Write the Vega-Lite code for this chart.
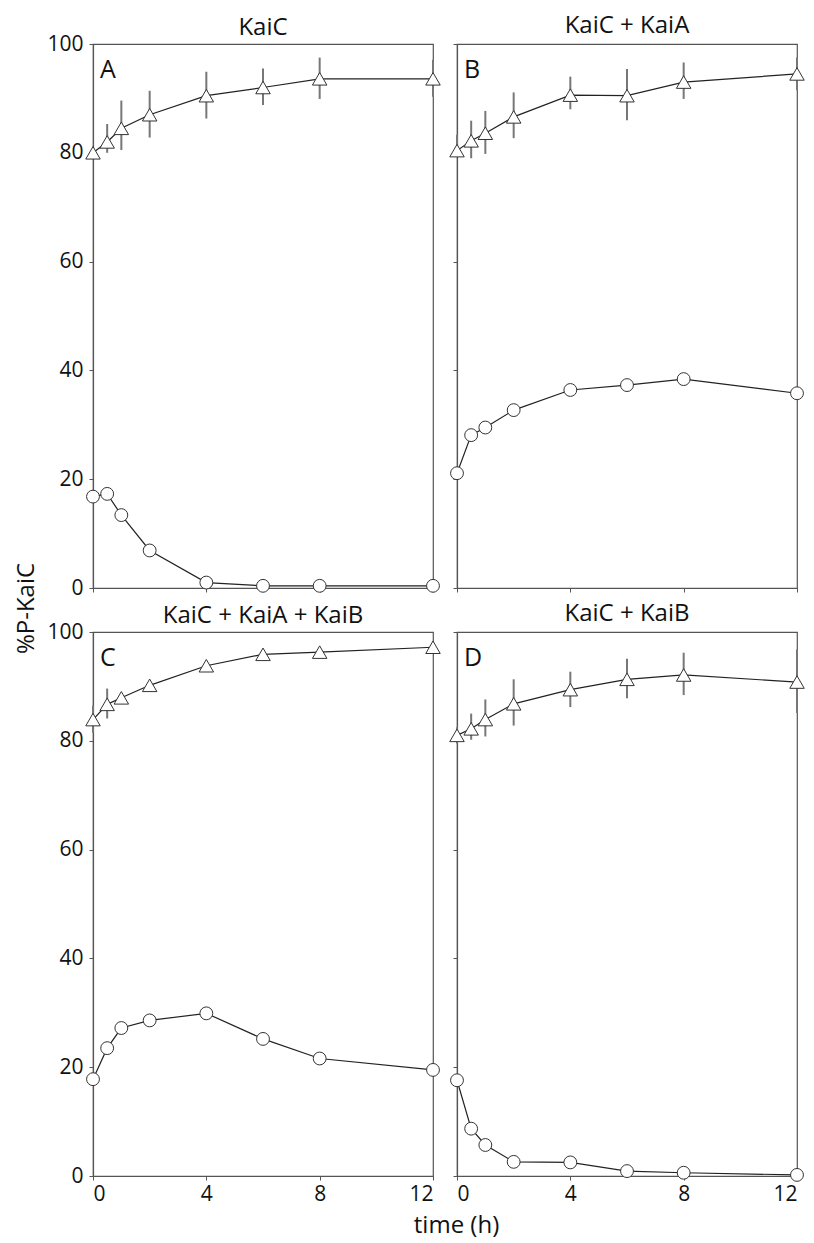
{
  "$schema": "https://vega.github.io/schema/vega-lite/v6.json",
  "background": "white",
  "padding": {"left": 14, "top": 12, "right": 4, "bottom": 0},
  "datasets": {
    "kai": [
      {"panel": "A", "series": "upper", "t": 0, "v": 80.0, "lo": null, "hi": null},
      {"panel": "A", "series": "upper", "t": 0.5, "v": 82.0, "lo": 80.0, "hi": 85.3},
      {"panel": "A", "series": "upper", "t": 1, "v": 84.5, "lo": 80.5, "hi": 89.6},
      {"panel": "A", "series": "upper", "t": 2, "v": 87.0, "lo": 82.8, "hi": 91.4},
      {"panel": "A", "series": "upper", "t": 4, "v": 90.5, "lo": 86.3, "hi": 94.9},
      {"panel": "A", "series": "upper", "t": 6, "v": 92.0, "lo": 88.8, "hi": 95.5},
      {"panel": "A", "series": "upper", "t": 8, "v": 93.6, "lo": 89.9, "hi": 97.5},
      {"panel": "A", "series": "upper", "t": 12, "v": 93.6, "lo": 90.3, "hi": 97.1},
      {"panel": "A", "series": "lower", "t": 0, "v": 16.8},
      {"panel": "A", "series": "lower", "t": 0.5, "v": 17.3},
      {"panel": "A", "series": "lower", "t": 1, "v": 13.4},
      {"panel": "A", "series": "lower", "t": 2, "v": 6.9},
      {"panel": "A", "series": "lower", "t": 4, "v": 1.0},
      {"panel": "A", "series": "lower", "t": 6, "v": 0.4},
      {"panel": "A", "series": "lower", "t": 8, "v": 0.4},
      {"panel": "A", "series": "lower", "t": 12, "v": 0.4},
      {"panel": "B", "series": "upper", "t": 0, "v": 80.4, "lo": 79.3, "hi": 83.3},
      {"panel": "B", "series": "upper", "t": 0.5, "v": 82.2, "lo": 79.0, "hi": 85.9},
      {"panel": "B", "series": "upper", "t": 1, "v": 83.6, "lo": 79.8, "hi": 87.7},
      {"panel": "B", "series": "upper", "t": 2, "v": 86.6, "lo": 82.7, "hi": 91.1},
      {"panel": "B", "series": "upper", "t": 4, "v": 90.6, "lo": 88.0, "hi": 94.0},
      {"panel": "B", "series": "upper", "t": 6, "v": 90.5, "lo": 86.0, "hi": 95.4},
      {"panel": "B", "series": "upper", "t": 8, "v": 93.0, "lo": 89.9, "hi": 96.6},
      {"panel": "B", "series": "upper", "t": 12, "v": 94.5, "lo": 91.5, "hi": 97.5},
      {"panel": "B", "series": "lower", "t": 0, "v": 21.1},
      {"panel": "B", "series": "lower", "t": 0.5, "v": 28.1},
      {"panel": "B", "series": "lower", "t": 1, "v": 29.5},
      {"panel": "B", "series": "lower", "t": 2, "v": 32.7},
      {"panel": "B", "series": "lower", "t": 4, "v": 36.4},
      {"panel": "B", "series": "lower", "t": 6, "v": 37.3},
      {"panel": "B", "series": "lower", "t": 8, "v": 38.4},
      {"panel": "B", "series": "lower", "t": 12, "v": 35.8},
      {"panel": "C", "series": "upper", "t": 0, "v": 83.9, "lo": 81.5, "hi": 86.5},
      {"panel": "C", "series": "upper", "t": 0.5, "v": 86.7, "lo": 84.1, "hi": 89.6},
      {"panel": "C", "series": "upper", "t": 1, "v": 87.9, "lo": 87.0, "hi": 88.8},
      {"panel": "C", "series": "upper", "t": 2, "v": 90.2, "lo": 89.4, "hi": 91.0},
      {"panel": "C", "series": "upper", "t": 4, "v": 93.8, "lo": 93.0, "hi": 94.6},
      {"panel": "C", "series": "upper", "t": 6, "v": 95.9, "lo": 95.0, "hi": 96.8},
      {"panel": "C", "series": "upper", "t": 8, "v": 96.3, "lo": 95.5, "hi": 97.1},
      {"panel": "C", "series": "upper", "t": 12, "v": 97.2, "lo": 96.4, "hi": 98.0},
      {"panel": "C", "series": "lower", "t": 0, "v": 17.8},
      {"panel": "C", "series": "lower", "t": 0.5, "v": 23.5},
      {"panel": "C", "series": "lower", "t": 1, "v": 27.2},
      {"panel": "C", "series": "lower", "t": 2, "v": 28.6},
      {"panel": "C", "series": "lower", "t": 4, "v": 29.9},
      {"panel": "C", "series": "lower", "t": 6, "v": 25.2},
      {"panel": "C", "series": "lower", "t": 8, "v": 21.6},
      {"panel": "C", "series": "lower", "t": 12, "v": 19.5},
      {"panel": "D", "series": "upper", "t": 0, "v": 81.0, "lo": 79.5, "hi": 82.5},
      {"panel": "D", "series": "upper", "t": 0.5, "v": 82.2, "lo": 80.2, "hi": 85.0},
      {"panel": "D", "series": "upper", "t": 1, "v": 83.9, "lo": 80.8, "hi": 87.6},
      {"panel": "D", "series": "upper", "t": 2, "v": 86.8, "lo": 82.8, "hi": 91.3},
      {"panel": "D", "series": "upper", "t": 4, "v": 89.4, "lo": 86.2, "hi": 92.7},
      {"panel": "D", "series": "upper", "t": 6, "v": 91.3, "lo": 87.8, "hi": 95.1},
      {"panel": "D", "series": "upper", "t": 8, "v": 92.1, "lo": 88.4, "hi": 96.2},
      {"panel": "D", "series": "upper", "t": 12, "v": 90.8, "lo": 85.1, "hi": 96.8},
      {"panel": "D", "series": "lower", "t": 0, "v": 17.6},
      {"panel": "D", "series": "lower", "t": 0.5, "v": 8.7},
      {"panel": "D", "series": "lower", "t": 1, "v": 5.7},
      {"panel": "D", "series": "lower", "t": 2, "v": 2.6},
      {"panel": "D", "series": "lower", "t": 4, "v": 2.5},
      {"panel": "D", "series": "lower", "t": 6, "v": 0.9},
      {"panel": "D", "series": "lower", "t": 8, "v": 0.6},
      {"panel": "D", "series": "lower", "t": 12, "v": 0.2}
    ]
  },
  "columns": 2,
  "spacing": {"row": 44, "column": 24},
  "bounds": "flush",
  "concat": [
    {
      "width": 340, "height": 544,
      "title": {"text": "KaiC", "offset": -7},
      "data": {"name": "kai"},
      "transform": [{"filter": "datum.panel === 'A'"}],
      "layer": [
        {"transform": [{"filter": "isValid(datum.lo)"}],
         "mark": {"type": "rule", "color": "#777", "strokeWidth": 2},
         "encoding": {
           "x": {"field": "t", "type": "quantitative", "scale": {"domain": [0, 12], "nice": false}, "axis": {"values": [0, 4, 8, 12], "labels": false, "title": null}},
           "y": {"field": "lo", "type": "quantitative", "scale": {"domain": [0, 100], "nice": false}, "axis": {"values": [0, 20, 40, 60, 80, 100], "title": "%P-KaiC", "titleY": 564, "titlePadding": 8}},
           "y2": {"field": "hi"}}},
        {"mark": {"type": "line", "color": "#222", "strokeWidth": 1.2},
         "encoding": {
           "x": {"field": "t", "type": "quantitative"},
           "y": {"field": "v", "type": "quantitative"},
           "detail": {"field": "series"}}},
        {"mark": {"type": "point", "filled": true, "fill": "white", "stroke": "#333", "strokeWidth": 1, "opacity": 1},
         "encoding": {
           "x": {"field": "t", "type": "quantitative"},
           "y": {"field": "v", "type": "quantitative"},
           "shape": {"field": "series", "type": "nominal", "scale": {"domain": ["upper", "lower"], "range": ["triangle-up", "circle"]}, "legend": null},
           "size": {"field": "series", "type": "nominal", "scale": {"domain": ["upper", "lower"], "range": [210, 165]}, "legend": null}}},
        {"transform": [{"filter": "datum.t === 0 && datum.series === 'upper'"}],
         "mark": {"type": "text", "text": "A", "align": "left", "baseline": "top", "dx": 7, "dy": 14, "fontSize": 25, "color": "#111"},
         "encoding": {"x": {"datum": 0, "type": "quantitative"}, "y": {"datum": 100, "type": "quantitative"}}}
      ]
    },
    {
      "width": 340, "height": 544,
      "title": {"text": "KaiC + KaiA", "offset": 6},
      "data": {"name": "kai"},
      "transform": [{"filter": "datum.panel === 'B'"}],
      "layer": [
        {"transform": [{"filter": "isValid(datum.lo)"}],
         "mark": {"type": "rule", "color": "#777", "strokeWidth": 2},
         "encoding": {
           "x": {"field": "t", "type": "quantitative", "scale": {"domain": [0, 12], "nice": false}, "axis": {"values": [0, 4, 8, 12], "labels": false, "title": null}},
           "y": {"field": "lo", "type": "quantitative", "scale": {"domain": [0, 100], "nice": false}, "axis": {"values": [0, 20, 40, 60, 80, 100], "labels": false, "title": null}},
           "y2": {"field": "hi"}}},
        {"mark": {"type": "line", "color": "#222", "strokeWidth": 1.2},
         "encoding": {
           "x": {"field": "t", "type": "quantitative"},
           "y": {"field": "v", "type": "quantitative"},
           "detail": {"field": "series"}}},
        {"mark": {"type": "point", "filled": true, "fill": "white", "stroke": "#333", "strokeWidth": 1, "opacity": 1},
         "encoding": {
           "x": {"field": "t", "type": "quantitative"},
           "y": {"field": "v", "type": "quantitative"},
           "shape": {"field": "series", "type": "nominal", "scale": {"domain": ["upper", "lower"], "range": ["triangle-up", "circle"]}, "legend": null},
           "size": {"field": "series", "type": "nominal", "scale": {"domain": ["upper", "lower"], "range": [210, 165]}, "legend": null}}},
        {"transform": [{"filter": "datum.t === 0 && datum.series === 'upper'"}],
         "mark": {"type": "text", "text": "B", "align": "left", "baseline": "top", "dx": 7, "dy": 14, "fontSize": 25, "color": "#111"},
         "encoding": {"x": {"datum": 0, "type": "quantitative"}, "y": {"datum": 100, "type": "quantitative"}}}
      ]
    },
    {
      "width": 340, "height": 544,
      "title": {"text": "KaiC + KaiA + KaiB", "offset": -7},
      "data": {"name": "kai"},
      "transform": [{"filter": "datum.panel === 'C'"}],
      "layer": [
        {"transform": [{"filter": "isValid(datum.lo)"}],
         "mark": {"type": "rule", "color": "#777", "strokeWidth": 2},
         "encoding": {
           "x": {"field": "t", "type": "quantitative", "scale": {"domain": [0, 12], "nice": false}, "axis": {"values": [0, 4, 8, 12], "title": "time (h)", "titleX": 363, "titlePadding": 9}},
           "y": {"field": "lo", "type": "quantitative", "scale": {"domain": [0, 100], "nice": false}, "axis": {"values": [0, 20, 40, 60, 80, 100], "title": null}},
           "y2": {"field": "hi"}}},
        {"mark": {"type": "line", "color": "#222", "strokeWidth": 1.2},
         "encoding": {
           "x": {"field": "t", "type": "quantitative"},
           "y": {"field": "v", "type": "quantitative"},
           "detail": {"field": "series"}}},
        {"mark": {"type": "point", "filled": true, "fill": "white", "stroke": "#333", "strokeWidth": 1, "opacity": 1},
         "encoding": {
           "x": {"field": "t", "type": "quantitative"},
           "y": {"field": "v", "type": "quantitative"},
           "shape": {"field": "series", "type": "nominal", "scale": {"domain": ["upper", "lower"], "range": ["triangle-up", "circle"]}, "legend": null},
           "size": {"field": "series", "type": "nominal", "scale": {"domain": ["upper", "lower"], "range": [210, 165]}, "legend": null}}},
        {"transform": [{"filter": "datum.t === 0 && datum.series === 'upper'"}],
         "mark": {"type": "text", "text": "C", "align": "left", "baseline": "top", "dx": 7, "dy": 14, "fontSize": 25, "color": "#111"},
         "encoding": {"x": {"datum": 0, "type": "quantitative"}, "y": {"datum": 100, "type": "quantitative"}}}
      ]
    },
    {
      "width": 340, "height": 544,
      "title": {"text": "KaiC + KaiB", "offset": 6},
      "data": {"name": "kai"},
      "transform": [{"filter": "datum.panel === 'D'"}],
      "layer": [
        {"transform": [{"filter": "isValid(datum.lo)"}],
         "mark": {"type": "rule", "color": "#777", "strokeWidth": 2},
         "encoding": {
           "x": {"field": "t", "type": "quantitative", "scale": {"domain": [0, 12], "nice": false}, "axis": {"values": [0, 4, 8, 12], "title": null}},
           "y": {"field": "lo", "type": "quantitative", "scale": {"domain": [0, 100], "nice": false}, "axis": {"values": [0, 20, 40, 60, 80, 100], "labels": false, "title": null}},
           "y2": {"field": "hi"}}},
        {"mark": {"type": "line", "color": "#222", "strokeWidth": 1.2},
         "encoding": {
           "x": {"field": "t", "type": "quantitative"},
           "y": {"field": "v", "type": "quantitative"},
           "detail": {"field": "series"}}},
        {"mark": {"type": "point", "filled": true, "fill": "white", "stroke": "#333", "strokeWidth": 1, "opacity": 1},
         "encoding": {
           "x": {"field": "t", "type": "quantitative"},
           "y": {"field": "v", "type": "quantitative"},
           "shape": {"field": "series", "type": "nominal", "scale": {"domain": ["upper", "lower"], "range": ["triangle-up", "circle"]}, "legend": null},
           "size": {"field": "series", "type": "nominal", "scale": {"domain": ["upper", "lower"], "range": [210, 165]}, "legend": null}}},
        {"transform": [{"filter": "datum.t === 0 && datum.series === 'upper'"}],
         "mark": {"type": "text", "text": "D", "align": "left", "baseline": "top", "dx": 7, "dy": 14, "fontSize": 25, "color": "#111"},
         "encoding": {"x": {"datum": 0, "type": "quantitative"}, "y": {"datum": 100, "type": "quantitative"}}}
      ]
    }
  ],
  "config": {
    "font": "Open Sans",
    "view": {"stroke": "#555", "strokeWidth": 1.2},
    "axis": {"grid": false, "domainColor": "#555", "domainWidth": 1.2, "tickColor": "#555", "tickSize": 4, "labelFontSize": 21, "labelColor": "#111", "titleFontSize": 24, "titleFontWeight": "normal", "titleColor": "#111"},
    "axisX": {"labelPadding": 3},
    "axisY": {"labelPadding": 6},
    "title": {"fontSize": 24, "fontWeight": "normal", "color": "#111", "frame": "group", "baseline": "alphabetic"}
  }
}
